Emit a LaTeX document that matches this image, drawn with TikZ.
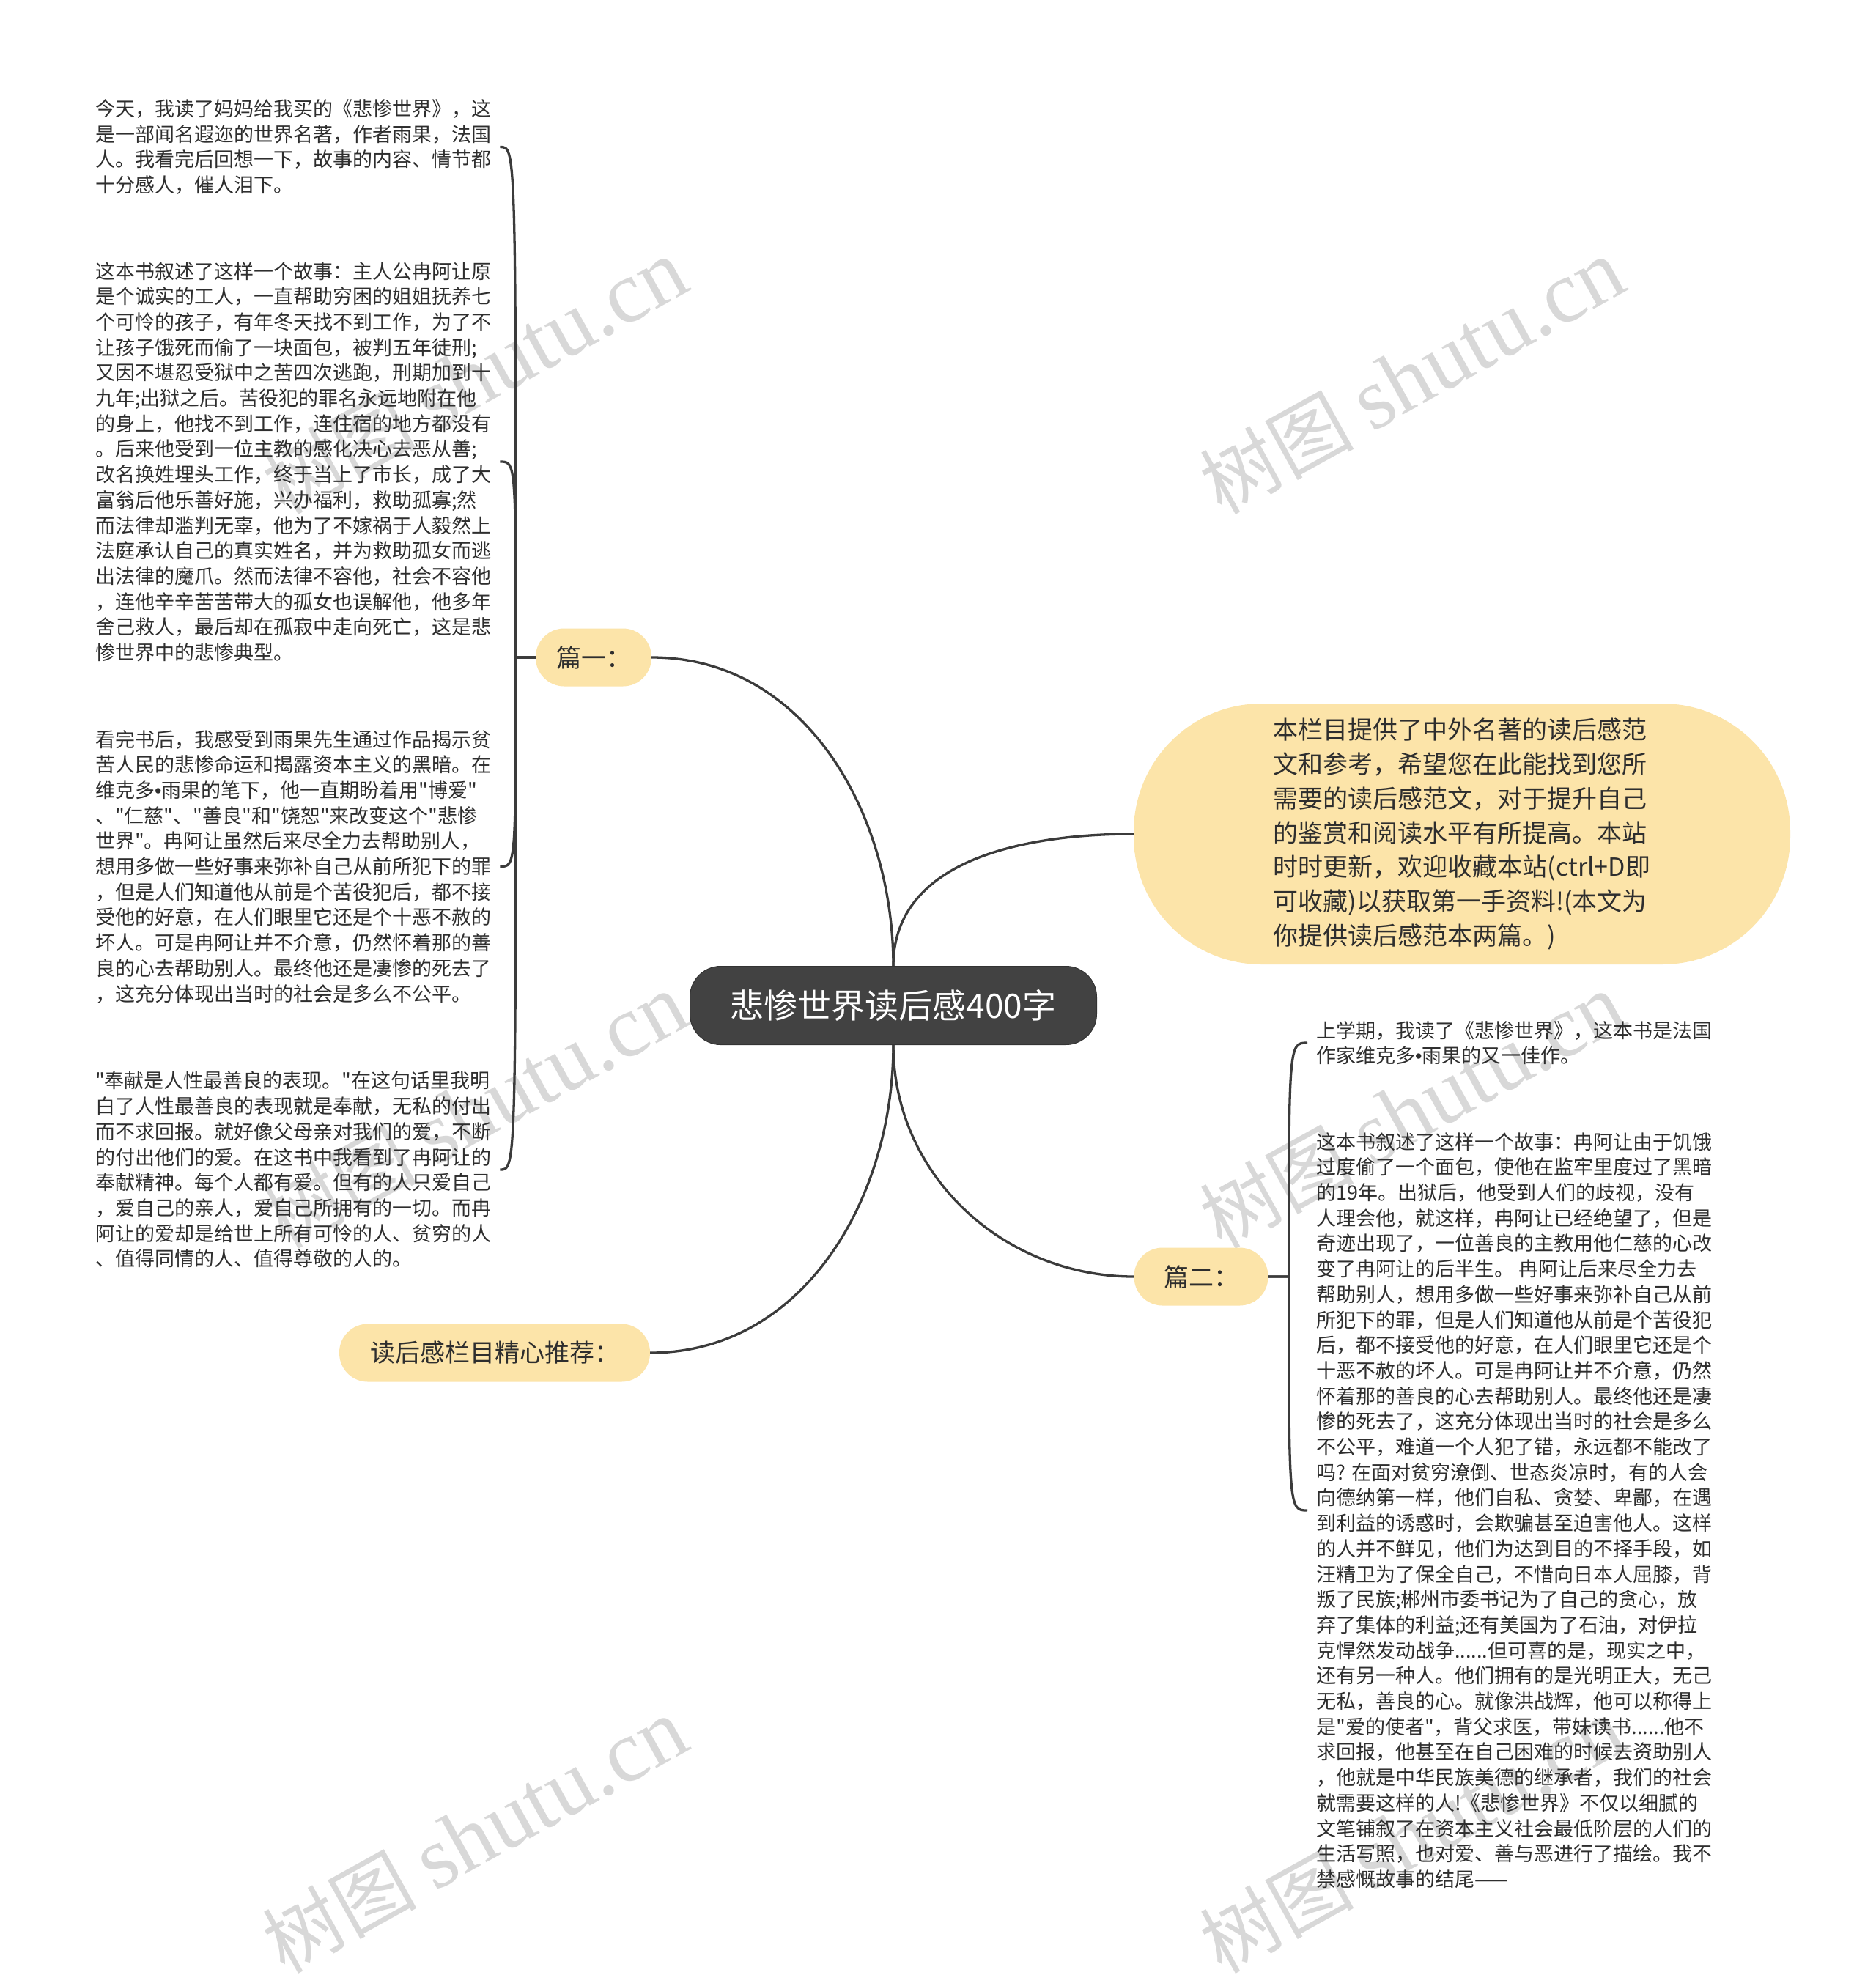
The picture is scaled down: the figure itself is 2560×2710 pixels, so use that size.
\documentclass[tikz,border=0pt]{standalone}
\usepackage{fontspec}
\setmainfont{Noto Sans CJK SC}[Ligatures=TeXOff]
\newfontfamily\markserif{Liberation Serif}
\newfontfamily\dotfont{Liberation Sans}
\usetikzlibrary{positioning}

\definecolor{rootfill}{HTML}{424242}
\definecolor{pillfill}{HTML}{FCE4A9}
\definecolor{linecol}{HTML}{3B3B3B}
\definecolor{inkcol}{HTML}{2E2E2E}
\definecolor{markcol}{HTML}{D8D8D8}

\newcommand{\mdot}{{\dotfont •}}

\begin{document}
\begin{tikzpicture}[x=1pt, y=1pt, root style/.style={draw=black!80, fill=rootfill, rounded corners=42pt, line width=1pt, text=white, font=\fontsize{46}{52}\selectfont, minimum width=555pt, minimum height=107pt}, pill style/.style={fill=pillfill, rounded corners=39pt, text=inkcol, font=\fontsize{34}{40}\selectfont, minimum height=79pt}, leaf style/.style={align=left, anchor=west, inner xsep=12pt, inner ysep=0pt, text=inkcol, font=\fontsize{27}{34.7}\selectfont}, edge style/.style={draw=linecol, line width=3.3pt}, mark style/.style={rotate=29, text=markcol, font=\fontsize{105}{110}\selectfont}]

    \useasboundingbox[fill=white] (0, 0) rectangle (2560, -2710);

    % =========================================================================
    % Marcas de agua
    % =========================================================================
    \foreach \mx/\my [count=\k] in {648/-514, 1927/-514, 648/-1516, 1927/-1516, 648/-2505, 1927/-2505}
        \node[mark style] (mark\k) at (\mx, \my) {树图 {\markserif\fontsize{120}{120}\selectfont shutu.cn}};

    % =========================================================================
    % Nodo central y ramas
    % =========================================================================
    \node[root style] (root) at (1219, -1372) {悲惨世界读后感400字};

    \node[pill style, minimum width=158pt] (pian1) at (810, -897) {篇一：};
    \node[pill style, minimum width=424pt] (tuijian) at (675, -1846) {读后感栏目精心推荐：};
    \node[pill style, minimum width=183pt] (pian2) at (1639, -1742) {篇二：};
    \node[pill style, minimum width=896pt, minimum height=356pt, rounded corners=175pt, align=left, font=\fontsize{34}{46.7}\selectfont] (intro) at (1995, -1138) {本栏目提供了中外名著的读后感范\\文和参考，希望您在此能找到您所\\需要的读后感范文，对于提升自己\\的鉴赏和阅读水平有所提高。本站\\时时更新，欢迎收藏本站(ctrl+D即\\可收藏)以获取第一手资料!(本文为\\你提供读后感范本两篇。)};

    % Aristas desde el centro
    \draw[edge style] (pian1.east) to[out=0, in=90] (root.north);
    \draw[edge style] (root.north) to[out=90, in=180] (intro.west);
    \draw[edge style] (root.south) to[out=-90, in=180] (pian2.west);
    \draw[edge style] (root.south) to[out=-90, in=0] (tuijian.east);

    % =========================================================================
    % Textos de 篇一 (izquierda)
    % =========================================================================
    \node[leaf style] (p1a) at (118, -200.5) {今天，我读了妈妈给我买的《悲惨世界》，这\\是一部闻名遐迩的世界名著，作者雨果，法国\\人。我看完后回想一下，故事的内容、情节都\\十分感人，催人泪下。};
    \node[leaf style] (p1b) at (118, -630) {这本书叙述了这样一个故事：主人公冉阿让原\\是个诚实的工人，一直帮助穷困的姐姐抚养七\\个可怜的孩子，有年冬天找不到工作，为了不\\让孩子饿死而偷了一块面包，被判五年徒刑;\\又因不堪忍受狱中之苦四次逃跑，刑期加到十\\九年;出狱之后。苦役犯的罪名永远地附在他\\的身上，他找不到工作，连住宿的地方都没有\\。后来他受到一位主教的感化决心去恶从善;\\改名换姓埋头工作，终于当上了市长，成了大\\富翁后他乐善好施，兴办福利，救助孤寡;然\\而法律却滥判无辜，他为了不嫁祸于人毅然上\\法庭承认自己的真实姓名，并为救助孤女而逃\\出法律的魔爪。然而法律不容他，社会不容他\\，连他辛辛苦苦带大的孤女也误解他，他多年\\舍己救人，最后却在孤寂中走向死亡，这是悲\\惨世界中的悲惨典型。};
    \node[leaf style] (p1c) at (118, -1182.5) {看完书后，我感受到雨果先生通过作品揭示贫\\苦人民的悲惨命运和揭露资本主义的黑暗。在\\维克多\mdot 雨果的笔下，他一直期盼着用"博爱"\\、"仁慈"、"善良"和"饶恕"来改变这个"悲惨\\世界"。冉阿让虽然后来尽全力去帮助别人，\\想用多做一些好事来弥补自己从前所犯下的罪\\，但是人们知道他从前是个苦役犯后，都不接\\受他的好意，在人们眼里它还是个十恶不赦的\\坏人。可是冉阿让并不介意，仍然怀着那的善\\良的心去帮助别人。最终他还是凄惨的死去了\\，这充分体现出当时的社会是多么不公平。};
    \node[leaf style] (p1d) at (118, -1596) {"奉献是人性最善良的表现。"在这句话里我明\\白了人性最善良的表现就是奉献，无私的付出\\而不求回报。就好像父母亲对我们的爱，不断\\的付出他们的爱。在这书中我看到了冉阿让的\\奉献精神。每个人都有爱。但有的人只爱自己\\，爱自己的亲人，爱自己所拥有的一切。而冉\\阿让的爱却是给世上所有可怜的人、贫穷的人\\、值得同情的人、值得尊敬的人的。};

    \coordinate (lj) at ([xshift=-27pt]pian1.west);
    \foreach \b in {p1a, p1b, p1c, p1d}
        \draw[edge style] (pian1.west) -- (lj) .. controls (lj |- \b.east) .. (\b.east);

    % =========================================================================
    % Textos de 篇二 (derecha)
    % =========================================================================
    \node[leaf style] (p2a) at (1784, -1423) {上学期，我读了《悲惨世界》，这本书是法国\\作家维克多\mdot 雨果的又一佳作。};
    \node[leaf style] (p2b) at (1784, -2061) {这本书叙述了这样一个故事：冉阿让由于饥饿\\过度偷了一个面包，使他在监牢里度过了黑暗\\的19年。出狱后，他受到人们的歧视，没有\\人理会他，就这样，冉阿让已经绝望了，但是\\奇迹出现了，一位善良的主教用他仁慈的心改\\变了冉阿让的后半生。 冉阿让后来尽全力去\\帮助别人，想用多做一些好事来弥补自己从前\\所犯下的罪，但是人们知道他从前是个苦役犯\\后，都不接受他的好意，在人们眼里它还是个\\十恶不赦的坏人。可是冉阿让并不介意，仍然\\怀着那的善良的心去帮助别人。最终他还是凄\\惨的死去了，这充分体现出当时的社会是多么\\不公平，难道一个人犯了错，永远都不能改了\\吗? 在面对贫穷潦倒、世态炎凉时，有的人会\\向德纳第一样，他们自私、贪婪、卑鄙，在遇\\到利益的诱惑时，会欺骗甚至迫害他人。这样\\的人并不鲜见，他们为达到目的不择手段，如\\汪精卫为了保全自己，不惜向日本人屈膝，背\\叛了民族;郴州市委书记为了自己的贪心，放\\弃了集体的利益;还有美国为了石油，对伊拉\\克悍然发动战争......但可喜的是，现实之中，\\还有另一种人。他们拥有的是光明正大，无己\\无私，善良的心。就像洪战辉，他可以称得上\\是"爱的使者"，背父求医，带妹读书......他不\\求回报，他甚至在自己困难的时候去资助别人\\，他就是中华民族美德的继承者，我们的社会\\就需要这样的人!《悲惨世界》不仅以细腻的\\文笔铺叙了在资本主义社会最低阶层的人们的\\生活写照，也对爱、善与恶进行了描绘。我不\\禁感慨故事的结尾——};

    \coordinate (rj) at ([xshift=28pt]pian2.east);
    \foreach \b in {p2a, p2b}
        \draw[edge style] (pian2.east) -- (rj) .. controls (rj |- \b.west) .. (\b.west);

\end{tikzpicture}
\end{document}
